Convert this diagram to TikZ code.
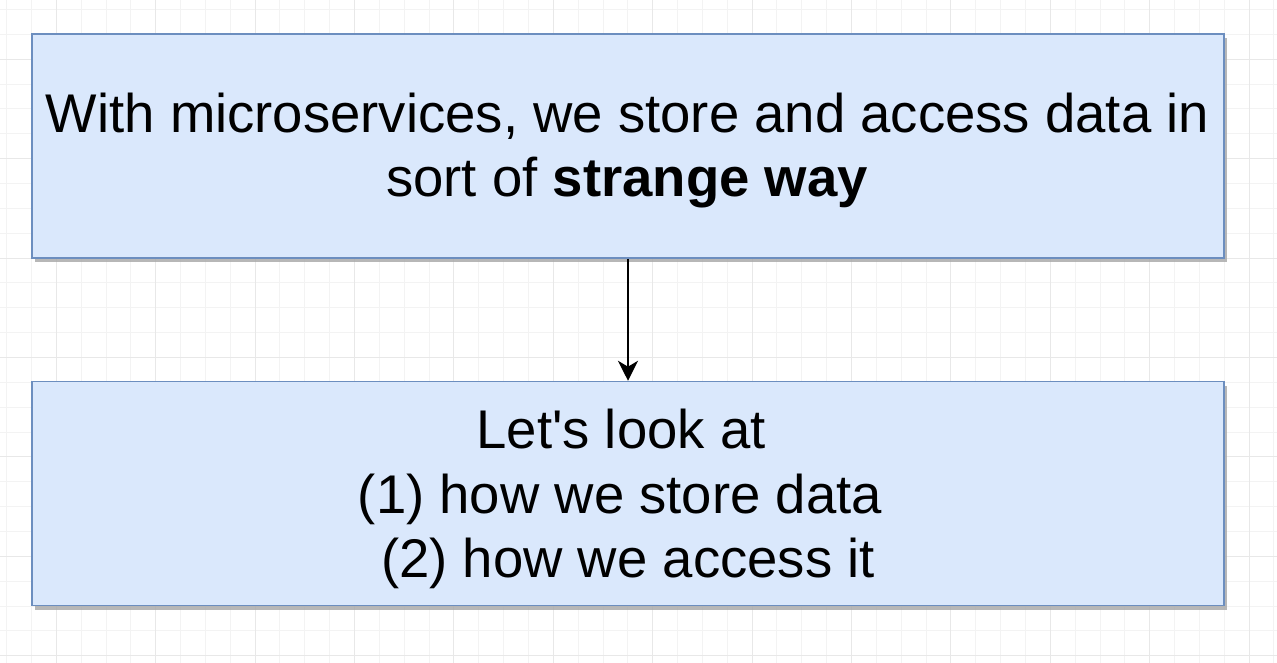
\documentclass[tikz,border=0pt]{standalone}
\usepackage{fontspec}
\setmainfont{Liberation Sans}[Ligatures=TeXOff]
\usetikzlibrary{arrows.meta}
\definecolor{boxfill}{HTML}{DAE8FC}
\definecolor{boxline}{HTML}{6C8EBF}
\definecolor{gridminor}{HTML}{F3F3F3}
\definecolor{gridmajor}{HTML}{E8E8E8}
\begin{document}
\begin{tikzpicture}[x=1pt,y=-1pt,
  box/.style={draw=boxline,line width=1.5pt,fill=boxfill,minimum width=1192pt,minimum height=224pt,inner sep=0pt,
    preaction={fill=black!35,opacity=0.8,transform canvas={xshift=3pt,yshift=-4pt}}},
  txt/.style={font=\fontsize{54.5}{64}\selectfont,text=black,anchor=base,inner sep=0pt}]
\useasboundingbox (0,0) rectangle (1277,663);
\fill[white] (0,0) rectangle (1277,663);
\foreach \i in {0,...,51} {\draw[gridminor,line width=1pt] (6.6+24.85*\i,0) -- (6.6+24.85*\i,663);}
\foreach \i in {0,...,26} {\draw[gridminor,line width=1pt] (0,9.6+24.85*\i) -- (1277,9.6+24.85*\i);}
\foreach \i in {0,...,12} {\draw[gridmajor,line width=1pt] (56.3+99.4*\i,0) -- (56.3+99.4*\i,663);}
\foreach \i in {0,...,6} {\draw[gridmajor,line width=1pt] (0,59.3+99.4*\i) -- (1277,59.3+99.4*\i);}
\node[box] (top) at (628,146) {};
\node[box] (bot) at (628,493.5) {};
\node[txt] (t1) at (627.5,133) {With microservices, we store and access data in};
\node[txt] (t2) at (627,197) {sort of \textbf{strange way}};
\node[txt] (b1) at (621,448) {Let's look at};
\node[txt] (b2) at (620,513) {(1) how we store data};
\node[txt] (b3) at (628,577) {(2) how we access it};
\draw[line width=1.5pt,-{Stealth[length=20pt,width=20pt,inset=6pt]}] (top.south) -- (bot.north);
\end{tikzpicture}
\end{document}
